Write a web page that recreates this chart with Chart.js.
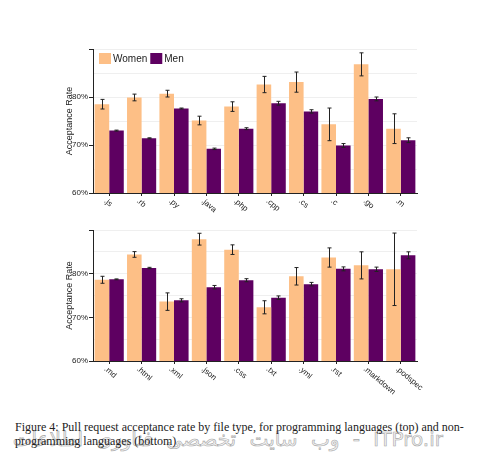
<!DOCTYPE html>
<html>
<head>
<meta charset="utf-8">
<script src="https://cdn.jsdelivr.net/npm/chart.js@4/dist/chart.umd.min.js"></script>
<style>
  body { margin: 0; background: #fff; width: 485px; height: 462px; overflow: hidden; position: relative; }
  canvas { position: absolute; left: 0; }
  #topChart { top: 0; }
  #bottomChart { top: 215px; }
  .caption { position: absolute; left: 15px; top: 419.5px; font: 12px/14.3px "Liberation Serif", serif; color: #222; white-space: nowrap; }
  .watermark { position: absolute; right: 42px; top: 429px; font: 20px/20px "DejaVu Sans", sans-serif; direction: rtl; white-space: nowrap;
    word-spacing: 7px; color: rgba(235,235,235,0.6); -webkit-text-stroke: 0.6px #a8a8a8; }
</style>
</head>
<body>
<canvas id="topChart" width="485" height="215"></canvas>
<canvas id="bottomChart" width="485" height="185"></canvas>
<div class="watermark">ITPro.ir - وب سایت تخصصی فناوری اطلاعات</div>
<div class="caption">Figure 4: Pull request acceptance rate by file type, for programming languages (top) and non-<br>programming languages (bottom)</div>
<script>
const topLabels = ['.js', '.rb', '.py', '.java', '.php', '.cpp', '.cs', '.c', '.go', '.m'];
const topWomen = [78.5, 79.9, 80.7, 75.1, 78.0, 82.6, 83.1, 74.3, 86.8, 73.4];
const topWomenErr = [1.0, 0.7, 0.7, 0.9, 1.0, 1.7, 2.1, 3.4, 2.4, 3.1];
const topMen = [73.0, 71.4, 77.6, 69.2, 73.4, 78.7, 77.0, 69.9, 79.6, 71.0];
const topMenErr = [0.1, 0.1, 0.1, 0.15, 0.2, 0.4, 0.35, 0.4, 0.4, 0.5];

const bottomLabels = ['.md', '.html', '.xml', '.json', '.css', '.txt', '.yml', '.rst', '.markdown', '.podspec'];
const bottomWomen = [78.6, 84.4, 73.6, 87.9, 85.5, 72.3, 79.4, 83.7, 81.9, 81.0];
const bottomWomenErr = [0.8, 0.65, 2.0, 1.35, 1.1, 1.5, 2.0, 2.2, 3.1, 8.3];
const bottomMen = [78.7, 81.3, 73.9, 76.9, 78.5, 74.5, 77.6, 81.1, 81.0, 84.2];
const bottomMenErr = [0.1, 0.15, 0.35, 0.4, 0.35, 0.4, 0.4, 0.45, 0.5, 0.8];

const WOMEN_COLOR = '#FDBF86';
const MEN_COLOR = '#5E0061';
const AXIS_COLOR = '#222';
const FONT = '"Liberation Sans", Arial, sans-serif';

// error bars drawn on top of each bar
const errorBars = {
    id: 'errorBars',
    afterDatasetsDraw(chart) {
        const ctx = chart.ctx;
        const y = chart.scales.y;
        ctx.save();
        ctx.strokeStyle = '#222';
        ctx.lineWidth = 1;
        chart.data.datasets.forEach((ds, di) => {
            const meta = chart.getDatasetMeta(di);
            meta.data.forEach((bar, i) => {
                const err = ds.errors[i];
                const x = Math.round(bar.x) + 0.5;
                const yTop = y.getPixelForValue(ds.data[i] + err);
                const yBot = y.getPixelForValue(ds.data[i] - err);
                ctx.beginPath();
                ctx.moveTo(x, yTop);
                ctx.lineTo(x, yBot);
                ctx.moveTo(x - 2, yTop);
                ctx.lineTo(x + 2, yTop);
                ctx.moveTo(x - 2, yBot);
                ctx.lineTo(x + 2, yBot);
                ctx.stroke();
            });
        });
        ctx.restore();
    }
};

// x labels rotated clockwise, starting at the tick
const slantLabels = {
    id: 'slantLabels',
    afterDraw(chart) {
        const ctx = chart.ctx;
        const x = chart.scales.x;
        const bottom = chart.chartArea.bottom;
        ctx.save();
        ctx.fillStyle = AXIS_COLOR;
        ctx.font = '8px ' + FONT;
        ctx.textAlign = 'left';
        ctx.textBaseline = 'middle';
        chart.data.labels.forEach((label, i) => {
            const px = x.getPixelForTick(i);
            ctx.save();
            ctx.translate(px - 4, bottom + 7);
            ctx.rotate(40 * Math.PI / 180);
            ctx.fillText(label, 0, 0);
            ctx.restore();
        });
        ctx.restore();
    }
};

// legend inside the plot, top left
const innerLegend = {
    id: 'innerLegend',
    afterDraw(chart, args, opts) {
        if (!opts.show) return;
        const ctx = chart.ctx;
        const area = chart.chartArea;
        let x = area.left + 6;
        const top = area.top + 4;
        ctx.save();
        ctx.font = '10px ' + FONT;
        ctx.textBaseline = 'middle';
        ctx.textAlign = 'left';
        chart.data.datasets.forEach(ds => {
            ctx.fillStyle = ds.backgroundColor;
            ctx.fillRect(x, top, 12, 11);
            ctx.fillStyle = AXIS_COLOR;
            ctx.fillText(ds.label, x + 14, top + 6);
            x += 14 + ctx.measureText(ds.label).width + 3;
        });
        ctx.restore();
    }
};

function makeChart(id, labels, women, womenErr, men, menErr, showLegend, padTop, xHeight) {
    return new Chart(document.getElementById(id), {
        type: 'bar',
        data: {
            labels: labels,
            datasets: [{
                label: 'Women',
                data: women,
                errors: womenErr,
                backgroundColor: WOMEN_COLOR,
                borderWidth: 0
            },
            {
                label: 'Men',
                data: men,
                errors: menErr,
                backgroundColor: MEN_COLOR,
                borderWidth: 0
            }]
        },
        options: {
            responsive: false,
            animation: false,
            categoryPercentage: 0.9,
            barPercentage: 1.0,
            layout: { padding: { left: 60, right: 68, top: padTop, bottom: 0 } },
            plugins: {
                legend: { display: false },
                tooltip: { enabled: false },
                innerLegend: { show: showLegend }
            },
            scales: {
                x: {
                    afterFit(scale) { scale.height = xHeight; },
                    border: { color: AXIS_COLOR, width: 1 },
                    grid: {
                        offset: false,
                        drawOnChartArea: false,
                        drawTicks: true,
                        tickLength: 3,
                        tickColor: AXIS_COLOR
                    },
                    ticks: { display: false }
                },
                y: {
                    min: 60,
                    max: 90,
                    afterFit(scale) { scale.width = 33; },
                    border: { color: AXIS_COLOR, width: 1 },
                    grid: {
                        color: '#efefef',
                        tickLength: 4,
                        tickColor: c => (c.tick && c.tick.value % 10 === 0) ? AXIS_COLOR : 'rgba(0,0,0,0)'
                    },
                    title: {
                        display: true,
                        text: 'Acceptance Rate',
                        color: AXIS_COLOR,
                        padding: { top: 4, bottom: 0 },
                        font: { family: FONT, size: 9 }
                    },
                    ticks: {
                        stepSize: 5,
                        padding: 1,
                        color: AXIS_COLOR,
                        font: { family: FONT, size: 8 },
                        callback: v => (v % 10 === 0 && v < 90) ? v + '%' : ''
                    }
                }
            }
        },
        plugins: [errorBars, slantLabels, innerLegend]
    });
}

makeChart('topChart', topLabels, topWomen, topWomenErr, topMen, topMenErr, true, 49, 22);
makeChart('bottomChart', bottomLabels, bottomWomen, bottomWomenErr, bottomMen, bottomMenErr, false, 15, 39);
</script>
</body>
</html>
